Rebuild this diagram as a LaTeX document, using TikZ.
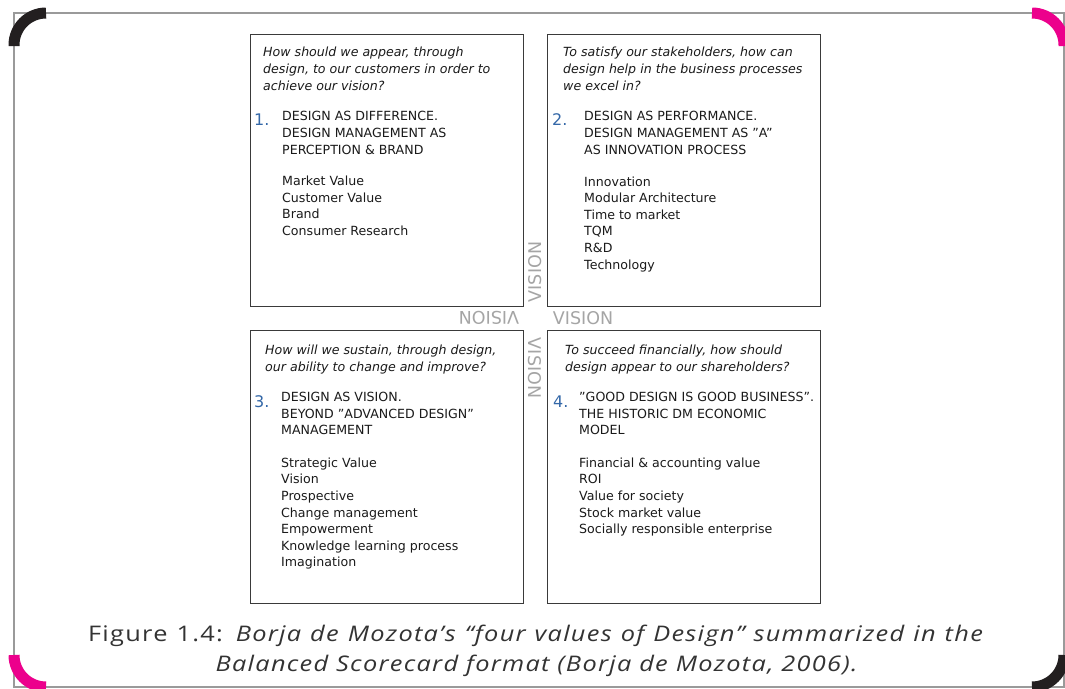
\documentclass[tikz,border=0pt]{standalone}
\usepackage{fontspec}
\setmainfont{DejaVu Sans}
\newfontfamily\capfont[FakeStretch=1.18, LetterSpace=6]{Open Sans}
\definecolor{framegray}{HTML}{9A9A9A}
\definecolor{cornerblk}{HTML}{231F20}
\definecolor{cornerpink}{HTML}{EC008C}
\definecolor{boxline}{HTML}{3A3A3A}
\definecolor{visgray}{HTML}{A5A5A5}
\definecolor{numblue}{HTML}{3468A8}
\definecolor{captext}{HTML}{333333}
\definecolor{bodytext}{HTML}{1A1A1A}
\begin{document}
\begin{tikzpicture}[x=1pt,y=-1pt,
  corner/.style={line width=11pt, line cap=butt, rounded corners=32pt},
  box/.style={draw=boxline, line width=1.3pt, anchor=north west, inner sep=0pt},
  % blocks are placed by the top of a strut, 0.7 of the line skip above the first baseline
  qtext/.style={anchor=north west, align=left, inner sep=0pt, text=bodytext,
    font=\fontsize{12.6}{17}\selectfont\itshape, execute at begin node=\strut},
  htext/.style={anchor=north west, align=left, inner sep=0pt, text=bodytext,
    font=\fontsize{12.6}{16.6}\selectfont, execute at begin node=\strut},
  num/.style={anchor=base west, inner sep=0pt, text=numblue,
    font=\fontsize{16}{16}\selectfont},
  vis/.style={inner sep=0pt, text=visgray, font=\fontsize{17.5}{17.5}\selectfont},
  captxt/.style={anchor=base, inner sep=0pt, text=captext, font=\capfont\fontsize{21.5}{30}\selectfont}]
\useasboundingbox (0,0) rectangle (1065,688);
\clip (0,0) rectangle (1065,688);
\fill[white] (0,0) rectangle (1065,688);

% outer frame with thick corner accents
\draw[framegray, line width=1.2pt] (14,13) rectangle (1064,687);
\draw[corner, cornerblk]  (14,46) -- (14,13) -- (46,13);
\draw[corner, cornerpink] (1032,13) -- (1064,13) -- (1064,46);
\draw[corner, cornerpink] (14,655) -- (14,687) -- (46,687);
\draw[corner, cornerblk]  (1032,687) -- (1064,687) -- (1064,655);

% the four quadrants
\node[box, minimum width=273pt, minimum height=272pt] (b1) at (250,34) {};
\node[box, minimum width=273pt, minimum height=272pt] (b2) at (547,34) {};
\node[box, minimum width=273pt, minimum height=273pt] (b3) at (250,330) {};
\node[box, minimum width=273pt, minimum height=273pt] (b4) at (547,330) {};

% quadrant 1
\node[qtext] (q1) at (263,47) {How should we appear, through\\design, to our customers in order to\\achieve our vision?};
\node[num] (n1) at (254,125) {1.};
\node[htext] (h1) at (282,111.4) {DESIGN AS DIFFERENCE.\\DESIGN MANAGEMENT AS\\PERCEPTION \& BRAND};
\node[htext] (l1) at (282,176) {Market Value\\Customer Value\\Brand\\Consumer Research};

% quadrant 2
\node[qtext] (q2) at (563,47) {To satisfy our stakeholders, how can\\design help in the business processes\\we excel in?};
\node[num] (n2) at (552,125) {2.};
\node[htext] (h2) at (584,111.4) {DESIGN AS PERFORMANCE.\\DESIGN MANAGEMENT AS "A"\\AS INNOVATION PROCESS};
\node[htext] (l2) at (584,176.4) {Innovation\\Modular Architecture\\Time to market\\TQM\\R\&D\\Technology};

% quadrant 3
\node[qtext] (q3) at (265,345) {How will we sustain, through design,\\our ability to change and improve?};
\node[num] (n3) at (254,407) {3.};
\node[htext] (h3) at (281,391.9) {DESIGN AS VISION.\\BEYOND "ADVANCED DESIGN"\\MANAGEMENT};
\node[htext] (l3) at (281,457.5) {Strategic Value\\Vision\\Prospective\\Change management\\Empowerment\\Knowledge learning process\\Imagination};

% quadrant 4
\node[qtext] (q4) at (565,345) {To succeed financially, how should\\design appear to our shareholders?};
\node[num] (n4) at (553,407) {4.};
\node[htext] (h4) at (579,391.9) {"GOOD DESIGN IS GOOD BUSINESS".\\THE HISTORIC DM ECONOMIC\\MODEL};
\node[htext] (l4) at (579,457.5) {Financial \& accounting value\\ROI\\Value for society\\Stock market value\\Socially responsible enterprise};

% the VISION labels turning round the centre
\node[vis, rotate=90]  (vn) at (535,272) {VISION};
\node[vis]             (ve) at (583,318) {VISION};
\node[vis, rotate=-90] (vs) at (535,368) {VISION};
\node[vis, rotate=180] (vw) at (489,318) {VISION};

% caption: first line justified to the full measure, last line centred
\node[captxt] (c1) at (535.5,641) {\makebox[895pt][s]{Figure 1.4: \itshape Borja de Mozota’s “four values of Design” summarized in the}};
\node[captxt] (c2) at (536.5,671) {\itshape Balanced Scorecard format (Borja de Mozota, 2006).};
\end{tikzpicture}
\end{document}
